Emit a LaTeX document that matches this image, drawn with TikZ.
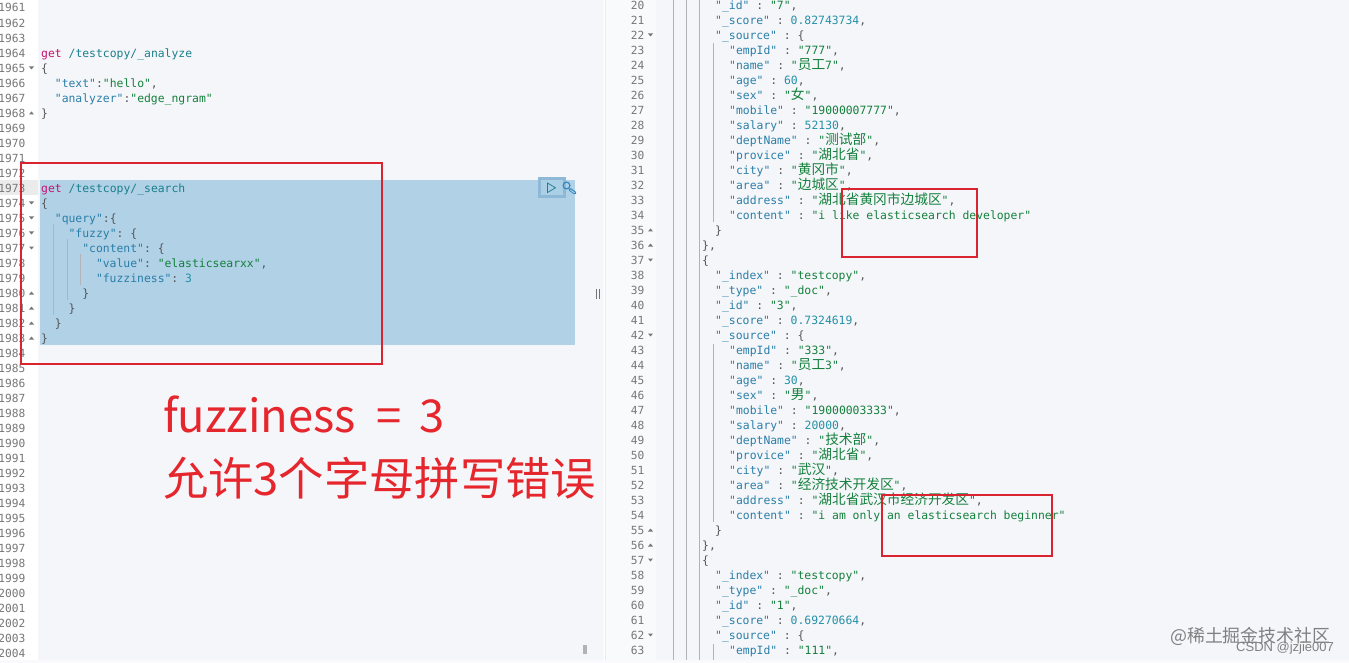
\documentclass[tikz,border=0pt]{standalone}
\usepackage{fontspec}
\setmonofont{DejaVu Sans Mono}
\setsansfont{Liberation Sans}
\newfontfamily\cjkf{Noto Sans CJK SC}
\definecolor{keyc}{HTML}{2A7EA8}
\definecolor{strc}{HTML}{14803C}
\definecolor{numc}{HTML}{2590A8}
\definecolor{punc}{HTML}{555555}
\definecolor{getc}{HTML}{C8106E}
\definecolor{pathc}{HTML}{1B7F8C}
\definecolor{gutc}{HTML}{777777}
\definecolor{paneb}{HTML}{F5F6FA}
\definecolor{selc}{HTML}{B0D1E6}
\definecolor{btnb}{HTML}{8DB8D6}
\definecolor{btni}{HTML}{ABCFE5}
\definecolor{wrenchc}{HTML}{2F86C0}
\definecolor{redb}{HTML}{D9232E}
\definecolor{bigred}{HTML}{E5262C}
\definecolor{guide}{HTML}{B0B4BA}
\newcommand\zh[1]{{\cjkf\fontsize{13.7}{15}\selectfont #1}}
\newcommand\kk[1]{\textcolor{keyc}{#1}}
\newcommand\st[1]{\textcolor{strc}{#1}}
\newcommand\nm[1]{\textcolor{numc}{#1}}
\newcommand\pp[1]{\textcolor{punc}{#1}}
\newcommand\col{\pp{\ :\ }}
\newcommand\cma{\pp{,}}
\newcommand\us{\_}
\tikzset{
  x=1pt,y=-1pt,
  code/.style={anchor=base west,inner sep=0pt,font=\ttfamily\fontsize{11.4}{13}\selectfont,text=punc},
  gutter/.style={anchor=base east,inner sep=0pt,font=\ttfamily\fontsize{11.2}{13}\selectfont,text=gutc},
  redbox/.style={draw=redb,line width=1.7pt},
  guideline/.style={draw=guide,line width=0.7pt},
  bigtext/.style={anchor=base west,inner sep=0pt,text=bigred},
}
% left code line: number, x, content
\newcommand\lc[3]{\pgfmathsetmacro\yy{8.3+(#1-1961)*15.006+4}\node[code] at (#2,\yy) {#3};}
% right code line
\newcommand\rc[3]{\pgfmathsetmacro\yy{5.7+(#1-20)*15+4}\node[code] at (#2,\yy) {#3};}
\newcommand\fdn[2]{\fill[gutc] (#1-2.5,#2-1.5) -- (#1+2.5,#2-1.5) -- (#1,#2+1.5) -- cycle;}
\newcommand\fup[2]{\fill[gutc] (#1-2.5,#2+1.5) -- (#1+2.5,#2+1.5) -- (#1,#2-1.5) -- cycle;}
\begin{document}
\begin{tikzpicture}
\useasboundingbox (0,0) rectangle (1349,663);
\fill[white] (0,0) rectangle (1349,663);
% panes
\fill[paneb] (38,0) rectangle (603,660);
\fill[paneb!60!white] (603,0) rectangle (656,660);
\fill[paneb] (656,0) rectangle (1349,660);
\fill[white] (604,0) rectangle (605.5,660);
\fill[white] (0,0) rectangle (38,660);
\fill[paneb!50!white] (0,660) rectangle (1349,663);
\draw[draw=black!8,line width=0.6pt] (605,0) -- (605,660);
% active gutter row and selection
\fill[black!8] (0,180) rectangle (38,195);
\fill[selc] (40,180) rectangle (575,345);
% action buttons
\fill[btnb] (538,177.5) rectangle (565.5,198);
\fill[btni] (541,180) rectangle (563,195.5);
\draw[pathc,line width=0.7pt] (547.5,183) -- (555.5,187.8) -- (547.5,192.5) -- cycle;
\draw[wrenchc,line width=1.1pt] (566.5,185.5) circle (3.4);
\draw[wrenchc,line width=3pt,line cap=round] (570,189.5) -- (575,193);
\draw[btni,line width=1pt,line cap=round] (570.5,190) -- (574.5,192.8);
% line numbers
\foreach \n in {1961,...,2004}{
  \pgfmathsetmacro\yy{8+(\n-1961)*15.006+4}
  \node[gutter] at (25.5,\yy) {\n};
}
\foreach \n in {20,...,63}{
  \pgfmathsetmacro\yy{5.7+(\n-20)*15+4}
  \node[gutter] at (644.5,\yy) {\n};
}
% fold markers
\foreach \y in {68,203,218,233,248}{\fdn{31.5}{\y}}
\foreach \y in {113,293,308,323,338}{\fup{31.5}{\y}}
\foreach \y in {35,335,635,260,560}{\fdn{650.5}{\y}}
\foreach \y in {230,245,530,545}{\fup{650.5}{\y}}
% indent guides
\draw[guideline] (53.5,224) -- (53.5,315);
\draw[guideline] (67.3,239) -- (67.3,300);
\draw[guideline] (80.3,254) -- (80.3,285);
\draw[guideline] (673,0) -- (673,660);
\draw[guideline] (686,0) -- (686,660);
\draw[guideline] (699,0) -- (699,660);
\draw[guideline] (713,43) -- (713,222);
\draw[guideline] (713,344) -- (713,522);
\draw[guideline] (713,644) -- (713,660);
% left code
\lc{1964}{41}{\textcolor{getc}{get} \textcolor{pathc}{/testcopy/\us analyze}}
\lc{1965}{41}{\{}
\lc{1966}{54.7}{\kk{"text"}\pp{:}\st{"hello"}\cma}
\lc{1967}{54.7}{\kk{"analyzer"}\pp{:}\st{"edge\us ngram"}}
\lc{1968}{41}{\}}
\lc{1973}{41}{\textcolor{getc}{get} \textcolor{pathc}{/testcopy/\us search}}
\lc{1974}{41}{\{}
\lc{1975}{54.7}{\kk{"query"}\pp{:\{}}
\lc{1976}{68.4}{\kk{"fuzzy"}\pp{:\ \{}}
\lc{1977}{82.1}{\kk{"content"}\pp{:\ \{}}
\lc{1978}{95.8}{\kk{"value"}\pp{:\ }\st{"elasticsearxx"}\cma}
\lc{1979}{95.8}{\kk{"fuzziness"}\pp{:\ }\nm{3}}
\lc{1980}{82.1}{\}}
\lc{1981}{68.4}{\}}
\lc{1982}{54.7}{\}}
\lc{1983}{41}{\}}
% right code
\rc{20}{715}{\kk{"\us id"}\col\st{"7"}\cma}
\rc{21}{715}{\kk{"\us score"}\col\nm{0.82743734}\cma}
\rc{22}{715}{\kk{"\us source"}\col\pp{\{}}
\rc{23}{729}{\kk{"empId"}\col\st{"777"}\cma}
\rc{24}{729}{\kk{"name"}\col\st{"\zh{员工}7"}\cma}
\rc{25}{729}{\kk{"age"}\col\nm{60}\cma}
\rc{26}{729}{\kk{"sex"}\col\st{"\zh{女}"}\cma}
\rc{27}{729}{\kk{"mobile"}\col\st{"19000007777"}\cma}
\rc{28}{729}{\kk{"salary"}\col\nm{52130}\cma}
\rc{29}{729}{\kk{"deptName"}\col\st{"\zh{测试部}"}\cma}
\rc{30}{729}{\kk{"provice"}\col\st{"\zh{湖北省}"}\cma}
\rc{31}{729}{\kk{"city"}\col\st{"\zh{黄冈市}"}\cma}
\rc{32}{729}{\kk{"area"}\col\st{"\zh{边城区}"}\cma}
\rc{33}{729}{\kk{"address"}\col\st{"\zh{湖北省黄冈市边城区}"}\cma}
\rc{34}{729}{\kk{"content"}\col\st{"i like elasticsearch developer"}}
\rc{35}{715}{\}}
\rc{36}{702}{\},}
\rc{37}{702}{\{}
\rc{38}{715}{\kk{"\us index"}\col\st{"testcopy"}\cma}
\rc{39}{715}{\kk{"\us type"}\col\st{"\us doc"}\cma}
\rc{40}{715}{\kk{"\us id"}\col\st{"3"}\cma}
\rc{41}{715}{\kk{"\us score"}\col\nm{0.7324619}\cma}
\rc{42}{715}{\kk{"\us source"}\col\pp{\{}}
\rc{43}{729}{\kk{"empId"}\col\st{"333"}\cma}
\rc{44}{729}{\kk{"name"}\col\st{"\zh{员工}3"}\cma}
\rc{45}{729}{\kk{"age"}\col\nm{30}\cma}
\rc{46}{729}{\kk{"sex"}\col\st{"\zh{男}"}\cma}
\rc{47}{729}{\kk{"mobile"}\col\st{"19000003333"}\cma}
\rc{48}{729}{\kk{"salary"}\col\nm{20000}\cma}
\rc{49}{729}{\kk{"deptName"}\col\st{"\zh{技术部}"}\cma}
\rc{50}{729}{\kk{"provice"}\col\st{"\zh{湖北省}"}\cma}
\rc{51}{729}{\kk{"city"}\col\st{"\zh{武汉}"}\cma}
\rc{52}{729}{\kk{"area"}\col\st{"\zh{经济技术开发区}"}\cma}
\rc{53}{729}{\kk{"address"}\col\st{"\zh{湖北省武汉市经济开发区}"}\cma}
\rc{54}{729}{\kk{"content"}\col\st{"i am only an elasticsearch beginner"}}
\rc{55}{715}{\}}
\rc{56}{702}{\},}
\rc{57}{702}{\{}
\rc{58}{715}{\kk{"\us index"}\col\st{"testcopy"}\cma}
\rc{59}{715}{\kk{"\us type"}\col\st{"\us doc"}\cma}
\rc{60}{715}{\kk{"\us id"}\col\st{"1"}\cma}
\rc{61}{715}{\kk{"\us score"}\col\nm{0.69270664}\cma}
\rc{62}{715}{\kk{"\us source"}\col\pp{\{}}
\rc{63}{729}{\kk{"empId"}\col\st{"111"}\cma}
% splitter handle and scroll mark
\draw[black!55,line width=0.7pt] (596.5,289) -- (596.5,299) (599.5,289) -- (599.5,299);
\fill[black!30] (583,645) rectangle (587,654);
% red boxes
\draw[redbox] (21,163) rectangle (382,364);
\draw[redbox] (842,189) rectangle (977,257);
\draw[redbox] (882,495) rectangle (1052,556);
% annotation
\node[bigtext,font=\cjkf\fontsize{45.3}{50}\selectfont] (fz) at (163,432) {fuzziness\hspace{20pt}=\hspace{18pt}3};
\node[bigtext,font=\cjkf\fontsize{45.3}{50}\selectfont] (zh) at (163,495) {允许3个字母拼写错误};
% watermarks
\node[anchor=base west,inner sep=0pt,text=black!50,font=\cjkf\fontsize{17.9}{20}\selectfont] (w1) at (1170,642) {@稀土掘金技术社区};
\node[anchor=base west,inner sep=0pt,text=black!50,font=\sffamily\fontsize{13}{15}\selectfont] (w2) at (1236,651) {CSDN @jzjie007};
\end{tikzpicture}
\end{document}
